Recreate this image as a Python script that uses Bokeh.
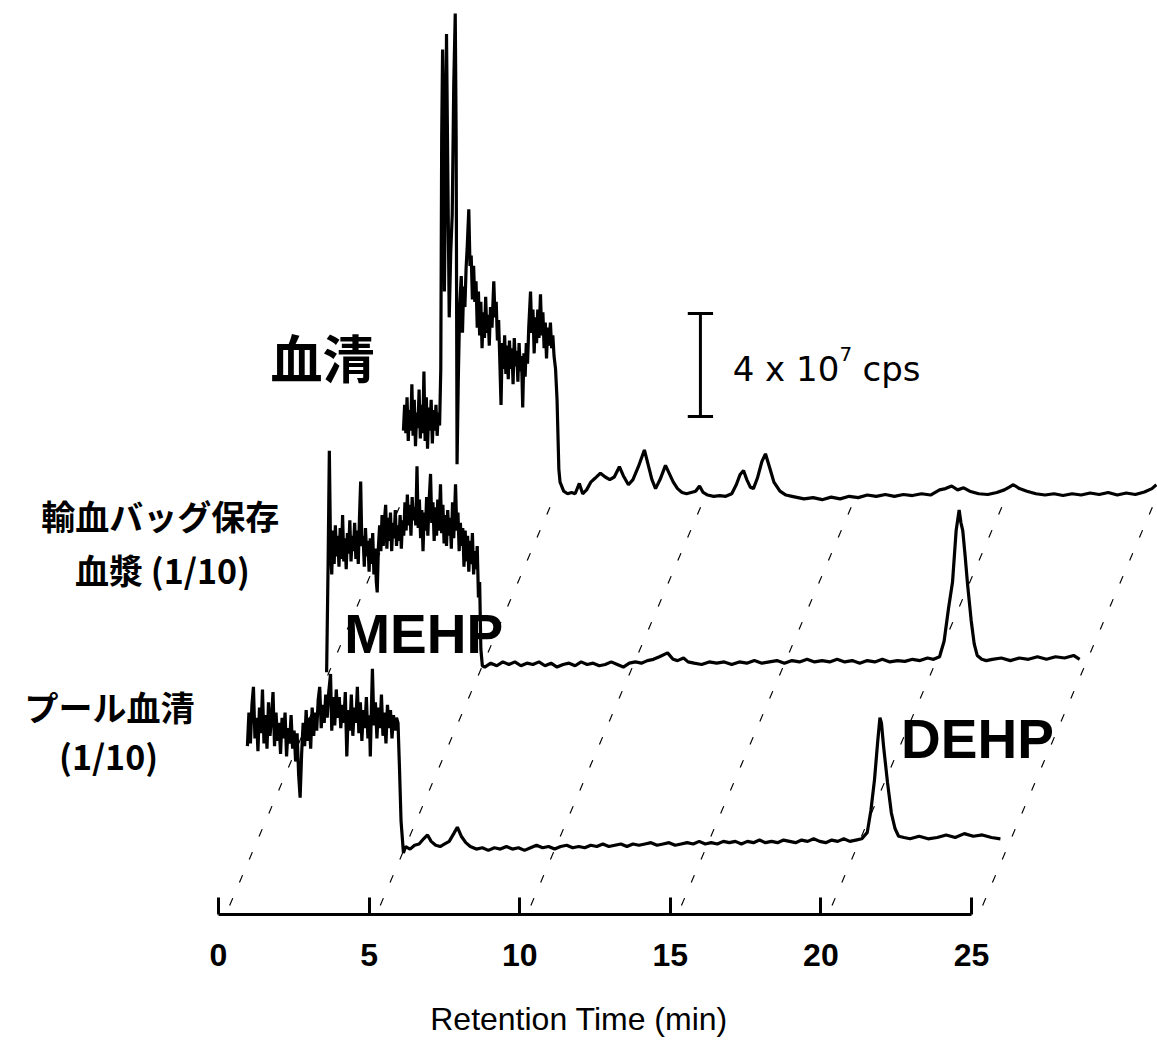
from bokeh.plotting import figure
from bokeh.models import Range1d, FixedTicker
from bokeh.core.properties import value
from bokeh.embed import file_html
from bokeh.resources import INLINE

# ---------------- data (time in min, intensity in 10^7 cps) ----------------
tick_values = [0, 5, 10, 15, 20, 25]
tick_labels = ["0", "5", "10", "15", "20", "25"]
axis_title = "Retention Time (min)"

# 血清 (top trace)
serum_pts = [
    (0.00, 2.6), (0.04, 3.6), (0.08, 2.5), (0.12, 3.9), (0.16, 2.2), (0.20, 3.4), (0.24, 2.6),
    (0.28, 4.4), (0.32, 2.4), (0.36, 3.8), (0.40, 2.0), (0.44, 3.3), (0.48, 2.7), (0.52, 4.2),
    (0.56, 2.3), (0.60, 3.6), (0.64, 2.5), (0.68, 4.9), (0.72, 2.2), (0.76, 3.9), (0.80, 1.9),
    (0.84, 3.5), (0.88, 2.6), (0.92, 3.8), (0.96, 2.1), (1.00, 3.4), (1.04, 2.6), (1.08, 3.6),
    (1.12, 2.4), (1.16, 3.3), (1.20, 2.8),
    (1.24, 5.0), (1.27, 14.0), (1.30, 17.4), (1.33, 15.5), (1.36, 8.0), (1.40, 12.5), (1.43, 18.0),
    (1.47, 13.0), (1.52, 7.0), (1.57, 9.5), (1.62, 11.0), (1.67, 16.0), (1.72, 18.8), (1.75, 14.0),
    (1.78, 1.3), (1.82, 4.5),
    (1.87, 7.5), (1.92, 8.6), (1.96, 6.4), (2.00, 8.2), (2.04, 7.4), (2.08, 8.9), (2.12, 9.8),
    (2.17, 11.2), (2.21, 9.0), (2.25, 9.4), (2.29, 7.7), (2.33, 9.0), (2.37, 7.6), (2.41, 8.4),
    (2.45, 6.6), (2.49, 8.0), (2.53, 6.3), (2.57, 7.6), (2.61, 5.8), (2.65, 7.2), (2.69, 6.2),
    (2.73, 7.8), (2.77, 6.4), (2.81, 7.1), (2.85, 5.9), (2.89, 7.4), (2.94, 6.6), (3.00, 8.4),
    (3.04, 7.0), (3.08, 7.6), (3.12, 6.1), (3.16, 6.9), (3.20, 5.3), (3.24, 3.6), (3.28, 6.0),
    (3.32, 5.0), (3.36, 6.3), (3.40, 4.8), (3.44, 5.9), (3.48, 4.6), (3.52, 6.1), (3.56, 5.0),
    (3.60, 5.8), (3.64, 4.4), (3.68, 6.2), (3.72, 5.1), (3.76, 5.7), (3.80, 4.5), (3.84, 6.0),
    (3.88, 4.9), (3.92, 5.5), (3.96, 3.5), (4.00, 5.6), (4.04, 4.7), (4.08, 6.0), (4.12, 5.2),
    (4.16, 6.6), (4.22, 8.0), (4.26, 6.4), (4.30, 7.3), (4.34, 5.6), (4.38, 7.0), (4.42, 6.0),
    (4.46, 7.3), (4.50, 6.2), (4.55, 7.9), (4.59, 6.3), (4.63, 7.2), (4.67, 5.8), (4.71, 6.8),
    (4.75, 5.4), (4.79, 6.6), (4.83, 5.9), (4.88, 6.8), (4.92, 5.8), (4.96, 6.3), (5.00, 5.5),
    (5.05, 5.0), (5.10, 3.8), (5.16, 1.1),
    (5.20, 0.6), (5.32, 0.25), (5.45, 0.15), (5.58, 0.2), (5.70, 0.15), (5.84, 0.55), (5.95, 0.15),
    (6.08, 0.3), (6.22, 0.6), (6.36, 0.75), (6.54, 0.95), (6.70, 0.8), (6.85, 0.7), (7.00, 0.8),
    (7.17, 1.2), (7.30, 0.85), (7.47, 0.5), (7.62, 0.7), (7.80, 1.2), (8.00, 1.85), (8.12, 1.3),
    (8.25, 0.7), (8.37, 0.35), (8.52, 0.7), (8.70, 1.25), (8.82, 0.95), (8.96, 0.6), (9.10, 0.35),
    (9.25, 0.2), (9.40, 0.15), (9.55, 0.2), (9.70, 0.25), (9.83, 0.45), (9.95, 0.2), (10.10, 0.1),
    (10.30, 0.05), (10.50, 0.08), (10.70, 0.05), (10.90, 0.15), (11.05, 0.5), (11.18, 0.9),
    (11.29, 1.05), (11.40, 0.7), (11.52, 0.4), (11.62, 0.35), (11.75, 0.75), (11.90, 1.4),
    (12.02, 1.7), (12.15, 1.2), (12.30, 0.6), (12.50, 0.25), (12.70, 0.1), (12.90, 0.05),
    (13.10, 0.0), (13.30, -0.05), (13.60, 0.0), (13.90, -0.08), (14.20, 0.02), (14.50, -0.05),
    (14.80, 0.05), (15.10, 0.0), (15.40, 0.1), (15.70, 0.05), (16.00, 0.12), (16.30, 0.05),
    (16.60, 0.12), (16.90, 0.08), (17.20, 0.15), (17.50, 0.1), (17.80, 0.3), (18.00, 0.35),
    (18.20, 0.45), (18.40, 0.3), (18.60, 0.38), (18.80, 0.25), (19.10, 0.15), (19.40, 0.12),
    (19.70, 0.2), (19.95, 0.3), (20.10, 0.4), (20.25, 0.5), (20.45, 0.35), (20.70, 0.25),
    (21.00, 0.15), (21.30, 0.1), (21.60, 0.15), (21.90, 0.08), (22.20, 0.15), (22.50, 0.1),
    (22.80, 0.18), (23.10, 0.12), (23.40, 0.2), (23.70, 0.1), (24.00, 0.18), (24.30, 0.12),
    (24.60, 0.22), (24.85, 0.35), (25.00, 0.5),
]

# 輸血バッグ保存血漿 (1/10) (middle trace)
bag_plasma_pts = [
    (0.00, -0.3), (0.05, 4.0), (0.09, 8.3), (0.13, 4.5), (0.17, 3.5), (0.21, 5.2), (0.25, 3.9),
    (0.29, 5.4), (0.33, 4.2), (0.37, 5.0), (0.41, 3.8), (0.45, 5.3), (0.49, 4.1), (0.53, 5.8),
    (0.57, 4.0), (0.61, 4.9), (0.65, 3.7), (0.69, 5.1), (0.73, 4.3), (0.77, 5.6), (0.81, 4.0),
    (0.85, 5.0), (0.89, 4.4), (0.93, 5.5), (0.97, 4.1), (1.01, 5.2), (1.05, 3.9), (1.09, 5.7),
    (1.13, 7.1), (1.17, 4.6), (1.21, 5.0), (1.25, 3.8), (1.29, 5.3), (1.33, 4.2), (1.37, 4.8),
    (1.41, 3.6), (1.45, 4.9), (1.49, 3.9), (1.53, 5.1), (1.57, 3.5), (1.61, 4.5), (1.65, 3.2),
    (1.68, 2.8), (1.72, 4.6), (1.76, 5.4), (1.80, 4.4), (1.84, 5.8), (1.88, 4.6), (1.92, 5.6),
    (1.96, 6.2), (2.00, 4.5), (2.04, 5.7), (2.08, 4.8), (2.12, 5.9), (2.16, 4.4), (2.20, 5.5),
    (2.24, 4.9), (2.28, 6.0), (2.32, 4.6), (2.36, 5.4), (2.40, 4.8), (2.44, 5.8), (2.48, 4.5),
    (2.52, 5.6), (2.56, 5.0), (2.60, 6.3), (2.64, 5.2), (2.68, 6.6), (2.72, 5.4), (2.76, 6.2),
    (2.80, 5.0), (2.84, 6.5), (2.88, 5.6), (2.92, 6.1), (2.96, 5.4), (3.00, 7.7), (3.04, 5.3),
    (3.08, 6.4), (3.12, 4.9), (3.16, 6.0), (3.20, 4.4), (3.24, 5.9), (3.28, 5.2), (3.32, 6.5),
    (3.36, 5.0), (3.40, 6.3), (3.45, 7.4), (3.49, 5.5), (3.53, 6.3), (3.57, 4.8), (3.61, 6.1),
    (3.65, 5.0), (3.69, 6.4), (3.73, 5.2), (3.78, 7.0), (3.82, 5.1), (3.86, 6.2), (3.90, 4.7),
    (3.94, 5.8), (3.98, 4.6), (4.02, 6.0), (4.06, 5.0), (4.10, 5.7), (4.14, 4.5), (4.18, 6.3),
    (4.22, 4.9), (4.28, 7.0), (4.32, 5.2), (4.36, 5.9), (4.40, 4.4), (4.44, 5.5), (4.48, 4.6),
    (4.52, 5.3), (4.56, 3.8), (4.60, 5.2), (4.64, 4.0), (4.68, 5.0), (4.72, 3.6), (4.76, 4.8),
    (4.80, 3.9), (4.84, 5.1), (4.88, 3.5), (4.92, 4.4), (4.96, 3.7), (5.00, 4.6), (5.04, 2.6),
    (5.08, 3.2), (5.12, 0.6), (5.17, -0.05),
    (5.25, -0.1), (5.45, 0.05), (5.65, -0.05), (5.85, 0.1), (6.05, 0.0), (6.25, 0.1), (6.45, -0.05),
    (6.65, 0.05), (6.85, 0.0), (7.05, 0.1), (7.25, -0.05), (7.45, 0.05), (7.65, -0.1), (7.85, 0.0),
    (8.05, 0.05), (8.25, -0.05), (8.45, 0.1), (8.65, 0.0), (8.85, 0.05), (9.05, -0.05), (9.25, 0.0),
    (9.45, 0.1), (9.65, 0.0), (9.85, -0.1), (10.05, 0.05), (10.25, 0.1), (10.45, 0.05), (10.65, 0.15),
    (10.85, 0.2), (11.05, 0.3), (11.32, 0.45), (11.5, 0.2), (11.65, 0.15), (11.85, 0.25),
    (12.0, 0.1), (12.2, 0.05), (12.45, 0.0), (12.7, 0.1), (12.95, 0.05), (13.2, 0.1), (13.45, 0.0),
    (13.7, 0.1), (13.95, 0.05), (14.2, 0.15), (14.45, 0.05), (14.7, 0.1), (14.95, 0.15), (15.2, 0.05),
    (15.45, 0.15), (15.7, 0.1), (15.95, 0.2), (16.2, 0.1), (16.45, 0.15), (16.7, 0.1), (16.95, 0.2),
    (17.2, 0.1), (17.45, 0.15), (17.7, 0.05), (17.95, 0.15), (18.2, 0.1), (18.45, 0.2), (18.7, 0.1),
    (18.95, 0.15), (19.2, 0.12), (19.45, 0.2), (19.7, 0.15), (19.95, 0.25), (20.15, 0.2),
    (20.35, 0.3), (20.5, 0.9), (20.65, 2.2), (20.78, 3.2), (20.9, 5.2), (21.0, 6.0), (21.06, 5.5),
    (21.12, 5.2), (21.2, 4.2), (21.28, 3.1), (21.4, 1.7), (21.5, 0.8), (21.6, 0.35), (21.75, 0.2),
    (21.9, 0.15), (22.1, 0.2), (22.4, 0.25), (22.7, 0.15), (23.0, 0.25), (23.3, 0.2), (23.6, 0.3),
    (23.9, 0.2), (24.2, 0.3), (24.5, 0.25), (24.8, 0.35), (25.0, 0.2),
]

# プール血清 (1/10) (bottom trace)
pool_serum_pts = [
    (0.00, 3.9), (0.05, 5.2), (0.10, 4.0), (0.15, 5.5), (0.20, 6.2), (0.25, 4.2), (0.30, 5.0),
    (0.35, 3.7), (0.40, 5.4), (0.45, 4.4), (0.50, 6.1), (0.55, 4.0), (0.60, 5.1), (0.65, 3.8),
    (0.70, 5.6), (0.75, 4.3), (0.80, 5.0), (0.85, 6.0), (0.90, 3.9), (0.95, 5.2), (1.00, 4.1),
    (1.05, 4.8), (1.10, 3.6), (1.15, 5.0), (1.20, 4.2), (1.25, 5.2), (1.30, 3.5), (1.35, 4.6),
    (1.40, 4.0), (1.45, 5.1), (1.50, 3.8), (1.55, 4.5), (1.60, 3.3), (1.65, 4.4), (1.70, 2.8),
    (1.75, 1.9), (1.80, 3.6), (1.85, 4.8), (1.90, 3.9), (1.95, 5.3), (2.00, 4.1), (2.05, 5.0),
    (2.10, 3.8), (2.15, 5.4), (2.20, 4.3), (2.25, 5.2), (2.30, 4.5), (2.35, 5.7), (2.40, 6.2),
    (2.45, 4.6), (2.50, 5.5), (2.55, 4.8), (2.60, 5.9), (2.65, 5.0), (2.70, 6.0), (2.76, 6.7),
    (2.80, 4.5), (2.85, 5.8), (2.90, 4.7), (2.95, 6.1), (3.00, 5.0), (3.05, 5.8), (3.10, 4.6),
    (3.15, 5.5), (3.20, 4.8), (3.25, 6.0), (3.30, 3.5), (3.35, 5.3), (3.40, 4.5), (3.45, 5.9),
    (3.50, 4.3), (3.55, 5.4), (3.60, 4.8), (3.65, 6.2), (3.70, 4.4), (3.75, 5.6), (3.80, 4.1),
    (3.85, 5.3), (3.90, 4.6), (3.95, 5.8), (4.00, 4.2), (4.05, 5.1), (4.08, 3.5), (4.12, 5.5),
    (4.15, 6.9), (4.20, 4.7), (4.25, 5.6), (4.30, 4.2), (4.35, 5.4), (4.40, 4.6), (4.45, 5.9),
    (4.50, 4.3), (4.55, 5.2), (4.60, 4.0), (4.65, 5.5), (4.70, 4.6), (4.75, 5.3), (4.80, 4.2),
    (4.85, 5.1), (4.90, 4.5), (4.95, 5.0), (5.00, 4.8), (5.05, 3.0), (5.10, 1.0), (5.18, -0.25),
    (5.25, 0.0), (5.40, -0.1), (5.55, 0.05), (5.70, 0.1), (5.85, 0.3), (5.98, 0.45), (6.10, 0.2),
    (6.25, 0.05), (6.40, 0.0), (6.55, 0.1), (6.70, 0.2), (6.85, 0.5), (6.97, 0.75), (7.10, 0.4),
    (7.25, 0.15), (7.40, 0.0), (7.60, -0.1), (7.80, -0.05), (8.00, -0.15), (8.20, -0.05),
    (8.40, -0.1), (8.60, 0.0), (8.80, -0.1), (9.00, -0.05), (9.20, -0.15), (9.40, -0.05),
    (9.60, 0.05), (9.80, -0.05), (10.00, 0.0), (10.20, -0.1), (10.40, 0.0), (10.60, 0.05),
    (10.80, -0.05), (11.00, 0.0), (11.20, -0.05), (11.40, 0.05), (11.60, 0.0), (11.80, 0.1),
    (12.00, 0.0), (12.20, 0.05), (12.40, 0.1), (12.60, 0.0), (12.80, 0.1), (13.00, 0.05),
    (13.20, 0.1), (13.40, 0.15), (13.60, 0.05), (13.80, 0.1), (14.00, 0.15), (14.20, 0.05),
    (14.40, 0.1), (14.60, 0.15), (14.80, 0.1), (15.00, 0.2), (15.20, 0.1), (15.40, 0.15),
    (15.60, 0.1), (15.80, 0.2), (16.00, 0.15), (16.20, 0.2), (16.40, 0.1), (16.60, 0.2),
    (16.80, 0.15), (17.00, 0.25), (17.20, 0.15), (17.40, 0.2), (17.60, 0.15), (17.80, 0.25),
    (18.00, 0.2), (18.20, 0.15), (18.40, 0.25), (18.60, 0.2), (18.80, 0.3), (19.00, 0.2),
    (19.20, 0.15), (19.40, 0.25), (19.60, 0.2), (19.80, 0.3), (20.00, 0.2), (20.20, 0.25),
    (20.40, 0.3), (20.58, 0.55), (20.70, 1.4), (20.82, 2.6), (20.92, 4.0), (21.00, 5.0),
    (21.05, 4.8), (21.12, 3.9), (21.25, 2.5), (21.38, 1.3), (21.50, 0.7), (21.62, 0.4),
    (21.80, 0.35), (22.00, 0.3), (22.30, 0.4), (22.60, 0.3), (22.90, 0.35), (23.20, 0.45),
    (23.50, 0.35), (23.80, 0.5), (24.10, 0.4), (24.40, 0.45), (24.70, 0.35), (25.00, 0.3),
]

scale_bar_value = 4  # 4 x 10^7 cps

# ---------------- layout (pseudo-3D plane offsets, in min / 10^7 cps) ----------------
plane_offsets = {
    "pool": (0.96, 2.64),
    "bag": (3.59, 9.71),
    "serum": (6.14, 16.19),
}
grid_start = (0.37, 0.35)     # where the receding dashed lines leave the time axis

W, H = 1157, 1044
px_per_min = 30.12
px_per_unit = 25.75
x0_px = 218.0                  # pixel position of t = 0 inside the frame
frame_h = 914
x_lo = -x0_px / px_per_min
x_hi = x_lo + W / px_per_min
y_hi = frame_h / px_per_unit

p = figure(width=W, height=H, output_backend="svg", toolbar_location=None,
           x_range=Range1d(x_lo, x_hi), y_range=Range1d(0, y_hi),
           y_axis_location=None, x_axis_location="below",
           min_border_left=0, min_border_right=0, min_border_top=0, min_border_bottom=H - frame_h)
p.outline_line_color = None
p.xgrid.visible = False
p.ygrid.visible = False
p.background_fill_color = "white"
p.border_fill_color = "white"

ax = p.xaxis[0]
ax.ticker = FixedTicker(ticks=tick_values, minor_ticks=[])
ax.major_label_overrides = {v: s for v, s in zip(tick_values, tick_labels)}
ax.bounds = (tick_values[0], tick_values[-1])
ax.axis_line_width = 3
ax.axis_line_color = "black"
ax.major_tick_in = 17
ax.major_tick_out = 0
ax.major_tick_line_width = 3
ax.minor_tick_in = 0
ax.minor_tick_out = 0
ax.major_label_text_font = "Liberation Sans"
ax.major_label_text_font_size = "32px"
ax.major_label_text_font_style = "bold"
ax.major_label_text_color = "black"
ax.major_label_standoff = 29
ax.axis_label = axis_title
ax.axis_label_text_font = "Liberation Sans"
ax.axis_label_text_font_size = "32px"
ax.axis_label_text_font_style = "normal"
ax.axis_label_text_color = "black"
ax.axis_label_standoff = 32

# receding dashed guide lines
top_ox, top_oy = plane_offsets["serum"]
p.segment(x0=[t + grid_start[0] for t in tick_values], y0=[grid_start[1]] * len(tick_values),
          x1=[t + top_ox for t in tick_values], y1=[top_oy] * len(tick_values),
          line_color="black", line_width=1.2, line_dash="8 17")

# traces
for key, pts in (("pool", pool_serum_pts), ("bag", bag_plasma_pts), ("serum", serum_pts)):
    ox, oy = plane_offsets[key]
    xs = [t + ox for t, _ in pts]
    ys = [v + oy for _, v in pts]
    p.line(xs, ys, line_color="black", line_width=3.2, line_join="bevel")

# scale bar
sb_x, sb_y = 16.0, 19.34
cap = 0.42
p.segment(x0=[sb_x, sb_x - cap, sb_x - cap], y0=[sb_y, sb_y, sb_y + scale_bar_value],
          x1=[sb_x, sb_x + cap, sb_x + cap], y1=[sb_y + scale_bar_value, sb_y, sb_y + scale_bar_value],
          line_color="black", line_width=3)
p.text(x=[17.07], y=[21.2], text=["4 x 10"], text_font=value("DejaVu Sans"),
       text_font_size="34px", text_align="left", text_baseline="alphabetic", text_color="black")
p.text(x=[20.62], y=[21.75], text=["7"], text_font=value("DejaVu Sans"),
       text_font_size="20px", text_align="left", text_baseline="alphabetic", text_color="black")
p.text(x=[21.38], y=[21.2], text=["cps"], text_font=value("DejaVu Sans"),
       text_font_size="34px", text_align="left", text_baseline="alphabetic", text_color="black")

# sample labels
p.text(x=[3.45], y=[21.67], text=["血清"], text_font=value("Noto Sans CJK JP"),
       text_font_size="52px", text_font_style="bold", text_align="center",
       text_baseline="middle", text_color="black")
p.text(x=[-1.93, -1.86, -3.62, -3.65], y=[15.5, 13.4, 8.08, 6.17],
       text=["輸血バッグ保存", "血漿 (1/10)", "プール血清", "(1/10)"],
       text_font=value("Noto Sans CJK JP"), text_font_size="34px", text_font_style="bold",
       text_align="center", text_baseline="middle", text_color="black")

# compound labels
p.text(x=[6.81, 25.2], y=[10.91, 6.83], text=["MEHP", "DEHP"], text_font=value("Liberation Sans"),
       text_font_size="55px", text_font_style="bold", text_align="center",
       text_baseline="middle", text_color="black")

open("out.html", "w").write(file_html(p, INLINE))
